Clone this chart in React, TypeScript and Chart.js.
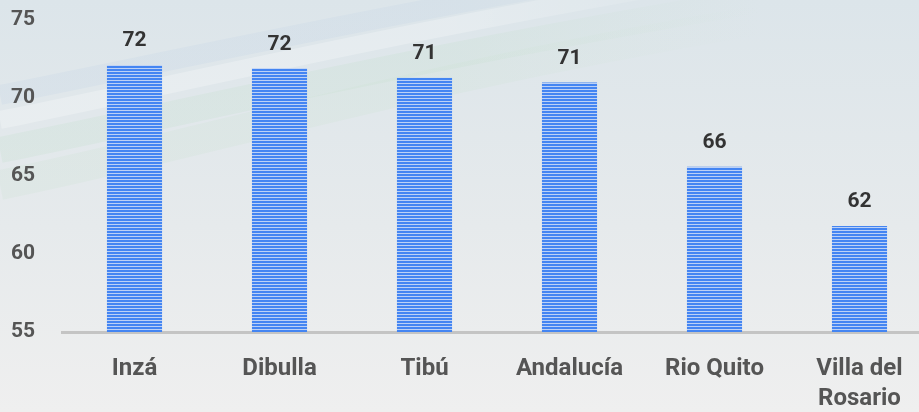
import React, { useEffect, useRef } from "react";
import { Chart, registerables } from "chart.js";

Chart.register(...registerables);

const categories: (string | string[])[] = ["Inzá", "Dibulla", "Tibú", "Andalucía", "Rio Quito", ["Villa del", "Rosario"]];
const values: number[] = [72.1, 71.9, 71.3, 71.0, 65.6, 61.8];
const valueLabels: string[] = ["72", "72", "71", "71", "66", "62"];
const yTicks: number[] = [55, 60, 65, 70, 75];

const FONT = "Roboto, 'Noto Sans', sans-serif";

function makePattern(): CanvasPattern | string {
  const c = document.createElement("canvas");
  c.width = 4;
  c.height = 3;
  const ctx = c.getContext("2d");
  if (!ctx) return "#4a86f0";
  ctx.fillStyle = "#4485f2";
  ctx.fillRect(0, 0, 4, 2);
  ctx.fillStyle = "#bcd1f6";
  ctx.fillRect(0, 2, 4, 1);
  const p = ctx.createPattern(c, "repeat");
  return p || "#4a86f0";
}

const bgPlugin = {
  id: "bgWaves",
  beforeDraw(chart: any) {
    const { ctx, width, height } = chart;
    ctx.save();
    const g = ctx.createLinearGradient(0, 0, 0, height);
    g.addColorStop(0, "#dce5ea");
    g.addColorStop(0.55, "#e6eaec");
    g.addColorStop(1, "#efefef");
    ctx.fillStyle = g;
    ctx.fillRect(0, 0, width, height);
    const bands = [
      { y0: 150, y1: 40, w: 26, c: [200, 224, 210, 0.3] },
      { y0: 120, y1: 10, w: 18, c: [255, 255, 255, 0.25] },
      { y0: 185, y1: 60, w: 30, c: [205, 226, 212, 0.25] },
      { y0: 95, y1: -10, w: 20, c: [200, 215, 230, 0.3] },
    ];
    for (const b of bands) {
      const lg = ctx.createLinearGradient(0, 0, 760, 0);
      const [r, gg, bb, a] = b.c;
      lg.addColorStop(0, `rgba(${r},${gg},${bb},${a})`);
      lg.addColorStop(0.6, `rgba(${r},${gg},${bb},${a})`);
      lg.addColorStop(1, `rgba(${r},${gg},${bb},0)`);
      ctx.beginPath();
      ctx.moveTo(0, b.y0);
      ctx.bezierCurveTo(200, b.y0 - 40, 400, b.y1 + 20, 760, b.y1 - 40);
      ctx.lineWidth = b.w;
      ctx.strokeStyle = lg;
      ctx.stroke();
    }
    ctx.restore();
  },
};

const labelPlugin = {
  id: "valueLabels",
  afterDatasetsDraw(chart: any) {
    const { ctx } = chart;
    const meta = chart.getDatasetMeta(0);
    ctx.save();
    ctx.font = `bold 21px ${FONT}`;
    ctx.fillStyle = "#333333";
    ctx.textAlign = "center";
    ctx.textBaseline = "middle";
    meta.data.forEach((bar: any, i: number) => {
      ctx.fillText(valueLabels[i], bar.x, bar.y - 24);
    });
    ctx.restore();
  },
};

export default function App() {
  const ref = useRef<HTMLCanvasElement | null>(null);
  useEffect(() => {
    document.body.style.margin = "0";
    document.body.style.overflow = "hidden";
    const canvas = ref.current;
    if (!canvas) return;
    const chart = new Chart(canvas, {
      type: "bar",
      data: {
        labels: categories as any,
        datasets: [
          {
            data: values,
            backgroundColor: makePattern() as any,
            borderWidth: 0,
            barPercentage: 0.76,
            categoryPercentage: 0.5,
          },
        ],
      },
      options: {
        responsive: false,
        animation: false,
        devicePixelRatio: 1,
        layout: { padding: { top: 20, right: 8, left: 0, bottom: 0 } },
        plugins: { legend: { display: false }, tooltip: { enabled: false } },
        scales: {
          x: {
            grid: { display: false, drawTicks: false },
            border: { display: true, color: "#c4c4c4", width: 3 },
            ticks: {
              padding: 22,
              color: "#555555",
              font: { family: FONT, size: 24, weight: "bold", lineHeight: 1.25 } as any,
              maxRotation: 0,
              autoSkip: false,
            },
            afterFit: (s: any) => {
              s.height = 80;
              s.paddingLeft = 0;
              s.paddingRight = 0;
            },
          },
          y: {
            min: 55,
            max: 75,
            grid: { display: false, drawTicks: false },
            border: { display: false },
            afterBuildTicks: (s: any) => {
              s.ticks = yTicks.map((v) => ({ value: v }));
            },
            ticks: {
              padding: 27,
              color: "#555555",
              font: { family: FONT, size: 21, weight: "bold" } as any,
            },
            afterFit: (s: any) => {
              s.width = 62;
              s.paddingTop = 0;
              s.paddingBottom = 0;
            },
          },
        },
      },
      plugins: [bgPlugin, labelPlugin],
    });
    return () => chart.destroy();
  }, []);
  return (
    <div style={{ position: "fixed", left: 0, top: 0, width: 919, height: 412, overflow: "hidden" }}>
      <canvas ref={ref} width={940} height={412} style={{ display: "block", width: 940, height: 412 }} />
    </div>
  );
}
